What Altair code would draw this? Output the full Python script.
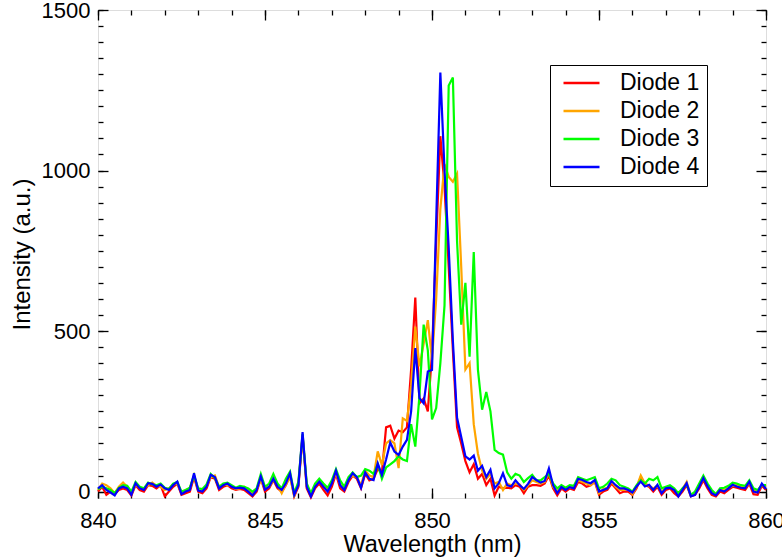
import altair as alt
import pandas as pd

# ---- data ----
WL_START = 840.0
WL_STEP = 0.125

diode1 = [
    0, 15, -10, 0, -8, 5, 10, 5, -12, 20,
    5, 0, 20, 18, 10, 20, -15, 0, 15, 25,
    -10, -5, 0, 45, 0, -5, 10, 45, 40, 5,
    15, 20, 10, 5, 8, 5, -5, -15, 0, 40,
    0, 10, 35, 10, 0, 20, 50, -15, 15, 175,
    10, -18, 10, 25, 5, -12, 15, 55, 10, 0,
    30, 50, 40, 10, 55, 35, 40, 70, 60, 200,
    205, 165, 190, 185, 200, 380, 604, 275, 290, 250,
    430, 780, 1107, 950, 700, 440, 200, 150, 95, 60,
    85, 40, 55, 20, 40, -12, 15, 10, 12, 10,
    20, 15, -5, 15, 20, 20, 18, 25, 50, 10,
    -12, 10, 0, 10, 5, 30, 25, 15, 20, 30,
    -10, 0, 5, 25, 10, -5, 0, 0, -10, 10,
    45, 20, 15, 0, 15, -10, 5, 10, -5, -15,
    0, 20, -15, -10, 10, 35, 10, -10, -15, 0,
    -5, 5, 15, 12, 8, 5, 25, -8, -10, 18,
    5,
]

diode2 = [
    5, 25, 20, 10, -5, 15, 28, 15, -5, 22,
    12, 10, 20, 28, 18, 15, 5, 10, 22, 25,
    -2, 5, 10, 50, 5, 3, 18, 45, 50, 15,
    22, 20, 18, 8, 10, 15, 5, -5, 8, 35,
    10, 15, 35, 20, -5, 22, 45, -12, 25, 170,
    20, -10, 20, 35, 20, 5, 30, 55, 25, 10,
    40, 50, 45, 20, 65, 50, 45, 125, 83, 150,
    160, 150, 73, 228, 220, 330, 514, 390, 460, 534,
    410, 600, 880, 1020, 980, 965, 990, 700, 380, 400,
    210, 118, 65, 40, 55, 25, 30, 5, 25, 20,
    25, 22, 5, 20, 35, 30, 25, 30, 60, 15,
    0, 18, 10, 12, 15, 35, 30, 25, 20, 32,
    -5, 8, 12, 30, 15, 5, 5, 8, -8, 15,
    50, 25, 18, 10, 18, 0, 12, 15, 8, -10,
    8, 30, -12, -5, 18, 40, 20, 0, -8, 8,
    5, 12, 18, 20, 15, 12, 28, 5, 0, 22,
    15,
]

diode3 = [
    8, 15, 10, 5, -5, 12, 20, 18, 0, 30,
    15, 10, 28, 22, 20, 25, 12, 8, 25, 30,
    0, 5, 12, 50, 10, 8, 22, 55, 42, 15,
    25, 28, 20, 12, 18, 15, 10, 0, 10, 55,
    15, 25, 55, 25, 10, 40, 62, -5, 30, 180,
    25, -5, 25, 40, 25, 12, 35, 70, 35, 15,
    45, 60, 45, 50, 70, 65, 55, 85, 40, 75,
    85, 95, 110, 100, 95, 210, 140, 300, 520, 440,
    225, 260, 400, 580, 1265, 1290, 780, 520, 650, 420,
    746, 380, 255, 310, 250, 130, 120, 115, 60, 40,
    55, 50, 30, 42, 52, 35, 35, 45, 55, 25,
    10, 20, 12, 20, 18, 45, 40, 35, 40, 45,
    10, 15, 25, 40, 35, 20, 15, 10, 0, 20,
    35, 25, 40, 35, 45, 10, 15, 20, 10, -5,
    10, 22, -10, 0, 25, 50, 25, 5, -8, 10,
    12, 18, 28, 25, 20, 18, 35, 10, 5, 20,
    20,
]

diode4 = [
    10, 20, 5, -3, -12, 10, 15, 10, -10, 26,
    10, 5, 26, 24, 15, 22, 10, 5, 20, 31,
    -8, 0, 5, 57, 3, 0, 15, 52, 45, 10,
    20, 25, 15, 10, 12, 10, 0, -12, 5, 47,
    6, 15, 40, 15, 5, 26, 57, -10, 20, 185,
    15, -15, 15, 31, 15, 0, 25, 65, 20, 5,
    36, 57, 45, 12, 60, 40, 36, 88, 52, 100,
    153, 125, 114, 140, 161, 250, 447, 291, 275, 374,
    379, 840, 1305, 1000, 760, 470, 230, 170, 110, 100,
    112, 65, 80, 45, 68, 10, 26, 57, 20, 16,
    35, 20, 8, 24, 45, 36, 28, 33, 72, 20,
    -5, 14, 5, 14, 10, 40, 36, 30, 26, 36,
    0, 5, 10, 33, 20, 10, 10, 5, -3, 16,
    31, 16, 21, 5, 21, -5, 10, 12, 5, -15,
    5, 26, -15, -10, 15, 42, 16, -5, -12, 5,
    0, 10, 21, 16, 12, 10, 31, 0, -3, 25,
    8,
]

series_names = ["Diode 1", "Diode 2", "Diode 3", "Diode 4"]
series_colors = ["#ff0000", "#ffa500", "#00ff00", "#0000ff"]

x_major = [840, 845, 850, 855, 860]
x_minor = list(range(840, 861))
y_major = [0, 500, 1000, 1500]
y_minor = list(range(0, 1501, 50))

# ---- table ----
rows = []
for name, vals in zip(series_names, [diode1, diode2, diode3, diode4]):
    for i, v in enumerate(vals):
        rows.append({"Wavelength": round(WL_START + WL_STEP * i, 4),
                     "Intensity": v, "Series": name})
df = pd.DataFrame(rows)

FONT = "Liberation Sans"
FS = 22
xs = alt.Scale(domain=[840, 860], nice=False, zero=False)
ys = alt.Scale(domain=[-20, 1500], nice=False, zero=False)


def ax(orient, values, size, labels=False, title=None, lpad=8, tpad=4,
       tfs=FS):
    kw = dict(orient=orient, values=values, tickSize=size, offset=-size,
              domain=False, grid=False, labels=labels, tickColor="black",
              tickWidth=1.3, labelFlush=False, labelOverlap=False,
              format="d",
              labelFont=FONT, labelFontSize=FS, labelColor="black",
              labelPadding=lpad, titleFont=FONT, titleFontSize=tfs,
              titleColor="black", titleFontWeight="normal",
              titlePadding=tpad, title=title)
    return alt.Axis(**kw)


lines = alt.Chart(df).mark_line(strokeWidth=2.2).encode(
    x=alt.X("Wavelength:Q", scale=xs,
            axis=ax("bottom", x_major, 10, labels=True,
                    title="Wavelength (nm)", lpad=12, tpad=1, tfs=23.5)),
    y=alt.Y("Intensity:Q", scale=ys,
            axis=ax("left", y_major, 10, labels=True,
                    title="Intensity (a.u.)", lpad=8, tpad=7, tfs=24)),
    color=alt.Color("Series:N",
                    scale=alt.Scale(domain=series_names, range=series_colors),
                    legend=alt.Legend(orient="none", legendX=452, legendY=55,
                                      title=None, symbolType="stroke",
                                      symbolSize=1296, symbolStrokeWidth=2.5,
                                      clipHeight=22,
                                      labelFont=FONT, labelFontSize=23,
                                      labelColor="black", labelOffset=19,
                                      padding=7, rowPadding=5,
                                      symbolOffset=5,
                                      strokeColor="black",
                                      fillColor="white")),
)


def ghost(xo, xv, xsz, yo, yv, ysz):
    return alt.Chart(df).mark_point(opacity=0).encode(
        x=alt.X("Wavelength:Q", scale=xs, axis=ax(xo, xv, xsz)),
        y=alt.Y("Intensity:Q", scale=ys, axis=ax(yo, yv, ysz)),
    )


chart = alt.layer(
    lines,
    ghost("bottom", x_minor, 5, "left", y_minor, 5),
    ghost("top", x_major, 10, "right", y_major, 10),
    ghost("top", x_minor, 5, "right", y_minor, 5),
).resolve_axis(x="independent", y="independent").properties(
    width=668, height=488,
    autosize=alt.AutoSizeParams(type="none"),
    padding={"left": 98, "top": 10, "right": 16, "bottom": 62},
).configure_view(stroke="black", strokeWidth=1.5).configure(background="white")

chart.save("out.html", embed_options={"renderer": "svg", "actions": False})
